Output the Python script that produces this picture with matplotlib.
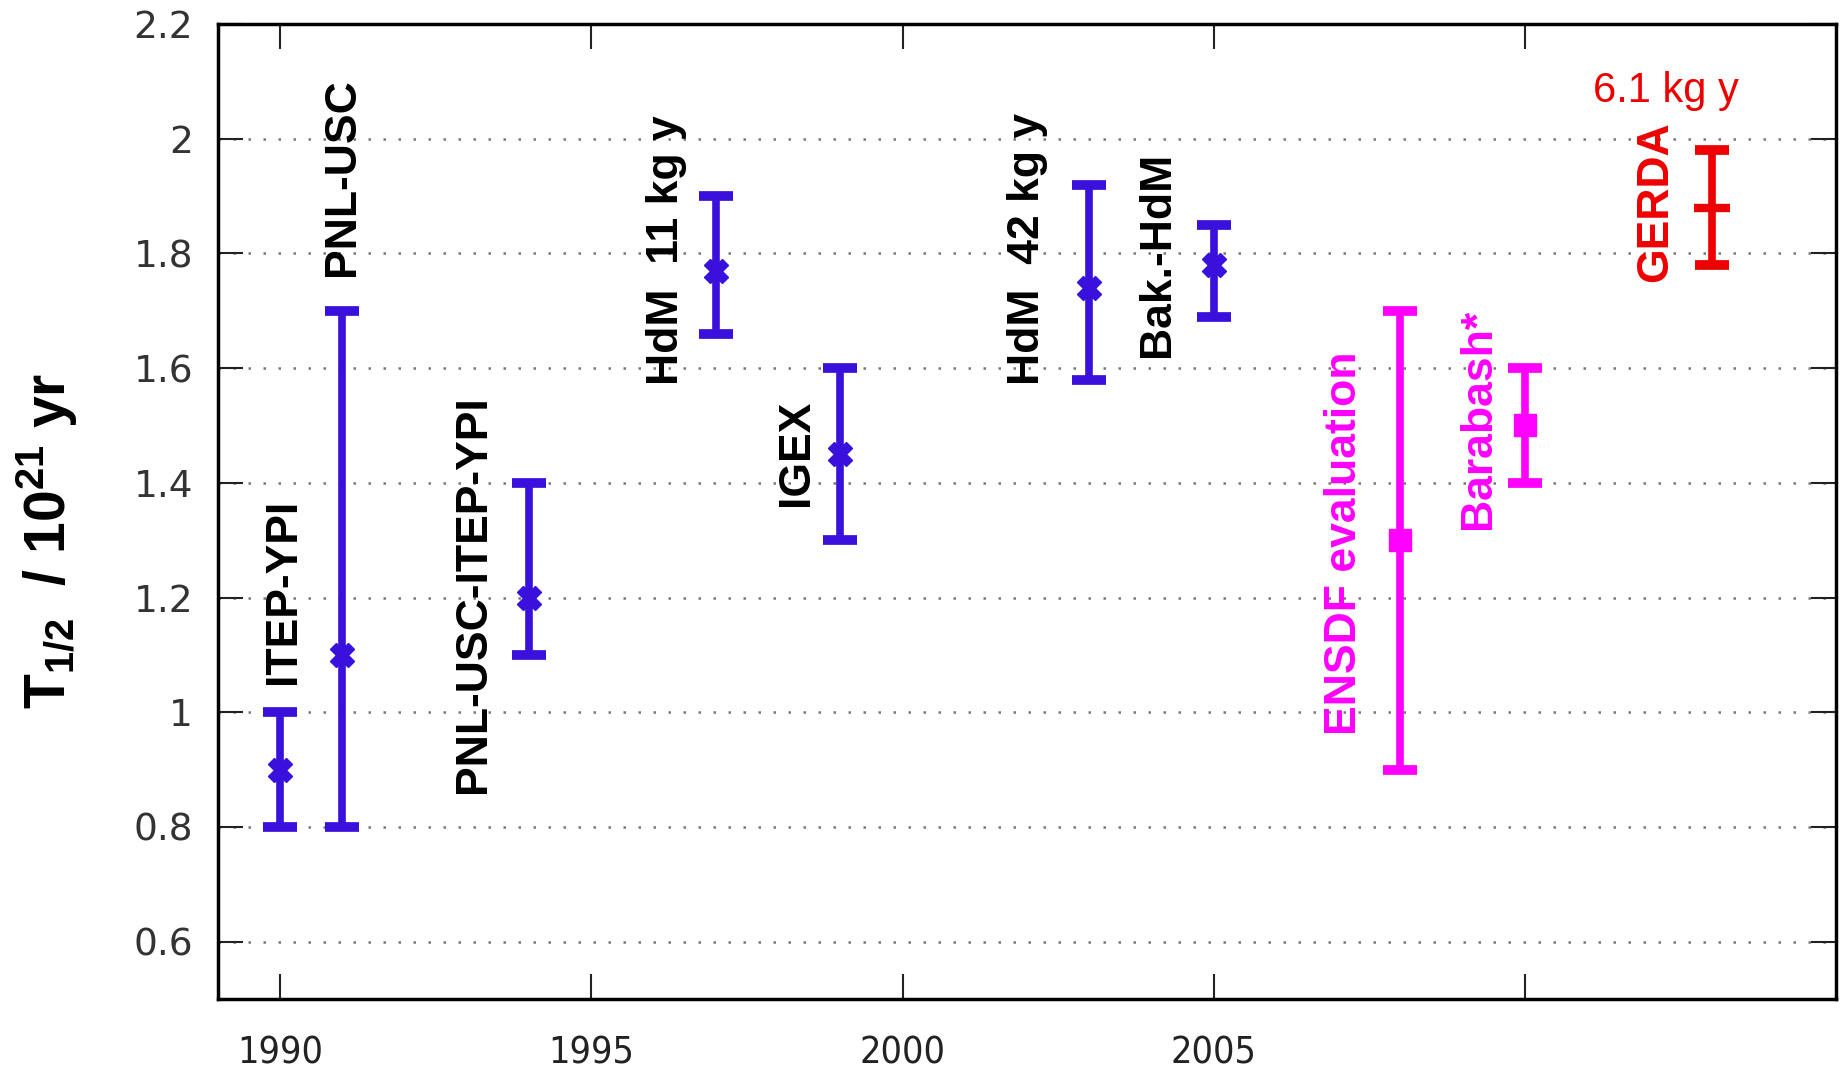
import numpy as np
import matplotlib.pyplot as plt

# measured half-lives (10^21 yr) vs year
labels = ["ITEP-YPI", "PNL-USC", "PNL-USC-ITEP-YPI", "HdM  11 kg y", "IGEX",
          "HdM  42 kg y", "Bak.-HdM", "ENSDF evaluation", "Barabash*", "GERDA"]
years = [1990, 1991, 1994, 1997, 1999, 2003, 2005, 2008, 2010, 2013]
value = [0.90, 1.10, 1.20, 1.77, 1.45, 1.74, 1.78, 1.30, 1.50, 1.88]
low = [0.80, 0.80, 1.10, 1.66, 1.30, 1.58, 1.69, 0.90, 1.40, 1.78]
high = [1.00, 1.70, 1.40, 1.90, 1.60, 1.92, 1.85, 1.70, 1.60, 1.98]
group = ["exp"] * 7 + ["eval"] * 2 + ["gerda"]

# where the rotated labels start (x, y in data units)
lab_x = [1990.05, 1991.0, 1993.1, 1996.2, 1998.3, 2002.0, 2004.1, 2007.1, 2009.25, 2012.1]
lab_y = [1.05, 1.76, 0.86, 1.57, 1.36, 1.57, 1.62, 0.96, 1.32, 1.75]

xticks = [1990, 1995, 2000, 2005, 2010]
xticklabels = ["1990", "1995", "2000", "2005", ""]
yticks = [0.6, 0.8, 1.0, 1.2, 1.4, 1.6, 1.8, 2.0, 2.2]
yticklabels = ["0.6", "0.8", "1", "1.2", "1.4", "1.6", "1.8", "2", "2.2"]

colors = {"exp": "#3a10dc", "eval": "#ff00ff", "gerda": "#ee0000"}
markers = {"exp": "X", "eval": "s", "gerda": "_"}
msize = {"exp": 17, "eval": 16, "gerda": 26}

plt.rcParams["mathtext.fontset"] = "custom"
plt.rcParams["mathtext.rm"] = "Liberation Sans:bold"
plt.rcParams["mathtext.default"] = "rm"

fig = plt.figure(figsize=(18.48, 10.71), dpi=100)
ax = fig.add_axes([218 / 1848, 1 - 999 / 1071, (1836 - 218) / 1848, (999 - 24) / 1071])

for i in range(len(years)):
    g = group[i]
    c = colors[g]
    yerr = [[value[i] - low[i]], [high[i] - value[i]]]
    ax.errorbar(years[i], value[i], yerr=yerr, fmt="none", ecolor=c,
                elinewidth=5.5, capsize=12, capthick=7, zorder=3)
    ax.plot(years[i], value[i], marker=markers[g], ms=msize[g], color=c,
            mew=6 if g == "gerda" else 1, zorder=4)
    ax.text(lab_x[i], lab_y[i], labels[i], rotation=90, ha="center", va="bottom",
            fontsize=32, fontweight="bold", color="black" if g == "exp" else c,
            family="Liberation Sans")

ax.text(2012.26, 2.083, "6.1 kg y", ha="center", va="center", fontsize=30,
        color=colors["gerda"], family="Liberation Sans")

ax.set_xlim(1989, 2015)
ax.set_ylim(0.5, 2.2)
ax.set_xticks(xticks)
ax.set_xticklabels(xticklabels)
ax.set_yticks(yticks)
ax.set_yticklabels(yticklabels)
ax.tick_params(axis="both", direction="in", length=18, width=1.5, top=True, right=True,
               colors="#222222")
ax.tick_params(axis="y", pad=18, labelsize=27)
ax.tick_params(axis="x", pad=26, labelsize=27)
for t in ax.get_yticklabels():
    t.set_color("#333333")
for t in ax.get_xticklabels():
    t.set_fontstretch("condensed")
ax.yaxis.grid(True, linestyle=(0, (1, 5)), color="#777777", linewidth=1.8)
for s in ax.spines.values():
    s.set_linewidth(2.5)

ax.set_ylabel("T$_{1/2}$  / 10$^{21}$ yr", fontsize=41, fontweight="bold",
              family="Liberation Sans")
ax.yaxis.set_label_coords(-0.085, 0.47)

fig.savefig("out.png", dpi=100)
